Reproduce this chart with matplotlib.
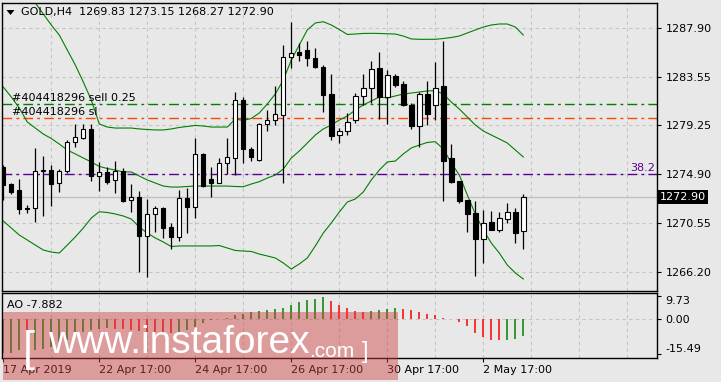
import matplotlib.pyplot as plt
from matplotlib.patches import Rectangle, Polygon
import matplotlib.transforms as mtransforms

# свечи GOLD H4 (O, H, L, C)
opens = [1275.58, 1274.04, 1273.51, 1271.93, 1271.88, 1275.20, 1275.28, 1274.10, 1275.19, 1277.74,
         1278.15, 1278.92, 1274.72, 1275.13, 1274.37, 1275.17, 1272.62, 1272.86, 1269.45, 1271.35,
         1271.88, 1270.19, 1269.36, 1272.80, 1272.02, 1276.68, 1274.48, 1274.15, 1275.88, 1276.37,
         1281.47, 1277.12, 1276.17, 1279.34, 1279.69, 1280.16, 1285.29, 1285.79, 1285.94, 1285.20,
         1284.43, 1282.00, 1278.38, 1278.77, 1279.69, 1281.82, 1282.53, 1284.31, 1281.74, 1283.60,
         1282.87, 1281.09, 1279.16, 1282.06, 1281.06, 1282.69, 1276.35, 1274.31, 1272.62, 1271.46,
         1269.18, 1270.67, 1269.99, 1270.96, 1271.53, 1269.83]
highs = [1275.70, 1274.10, 1274.46, 1272.17, 1277.21, 1276.52, 1275.70, 1275.34, 1277.95, 1279.37,
         1279.37, 1279.37, 1275.99, 1275.55, 1276.05, 1275.43, 1274.04, 1273.44, 1272.71, 1272.09,
         1271.95, 1270.55, 1273.51, 1273.71, 1278.12, 1276.76, 1275.52, 1276.32, 1278.10, 1282.21,
         1281.74, 1277.30, 1279.48, 1280.56, 1282.77, 1286.38, 1288.40, 1286.58, 1286.76, 1286.12,
         1284.61, 1283.82, 1279.00, 1280.32, 1282.09, 1283.77, 1284.99, 1285.79, 1284.11, 1283.82,
         1283.22, 1281.26, 1282.24, 1283.22, 1284.82, 1286.77, 1277.56, 1274.31, 1272.62, 1272.53,
         1271.70, 1271.62, 1271.55, 1272.38, 1271.88, 1273.15]
lows = [1272.65, 1273.15, 1271.37, 1271.49, 1270.69, 1271.20, 1272.11, 1273.35, 1274.99, 1277.35,
        1278.01, 1274.31, 1273.42, 1274.04, 1273.21, 1272.47, 1271.58, 1266.25, 1265.81, 1269.80,
        1269.22, 1268.27, 1268.98, 1269.66, 1271.05, 1273.80, 1272.91, 1274.10, 1274.90, 1274.84,
        1275.88, 1276.11, 1276.10, 1278.72, 1279.28, 1274.10, 1284.31, 1284.93, 1284.49, 1284.35,
        1280.41, 1277.94, 1277.65, 1278.38, 1279.43, 1281.06, 1281.24, 1279.82, 1279.38, 1282.63,
        1280.94, 1278.88, 1277.35, 1279.25, 1279.70, 1272.53, 1274.15, 1272.33, 1269.77, 1265.85,
        1266.99, 1269.95, 1269.80, 1270.58, 1268.79, 1268.27]
closes = [1273.92, 1273.36, 1271.79, 1271.81, 1275.17, 1275.26, 1274.07, 1275.19, 1277.77, 1278.19,
          1278.90, 1274.75, 1275.08, 1274.24, 1275.19, 1272.56, 1272.86, 1269.45, 1271.35, 1271.88,
          1270.16, 1269.36, 1272.77, 1272.02, 1276.68, 1273.86, 1274.15, 1275.88, 1276.41, 1281.47,
          1277.12, 1276.46, 1279.34, 1279.69, 1280.25, 1285.29, 1285.70, 1285.47, 1285.20, 1284.40,
          1281.97, 1278.30, 1278.73, 1279.55, 1281.82, 1282.53, 1284.26, 1281.74, 1283.67, 1282.84,
          1281.06, 1279.16, 1282.06, 1280.23, 1282.57, 1276.11, 1274.22, 1272.56, 1271.40, 1269.18,
          1270.55, 1269.99, 1270.99, 1271.53, 1269.72, 1272.90]

# Bollinger Bands
bb_upper = [1294.19, 1293.21, 1292.24, 1291.26, 1290.11, 1289.13, 1288.15, 1287.26, 1285.93, 1284.60,
            1283.09, 1281.49, 1279.36, 1279.09, 1279.00, 1279.00, 1279.00, 1278.92, 1278.87, 1278.83,
            1278.83, 1278.92, 1279.05, 1279.14, 1279.23, 1279.18, 1279.09, 1279.09, 1279.09, 1279.80,
            1279.67, 1279.85, 1280.34, 1281.14, 1282.02, 1283.27, 1285.04, 1286.38, 1287.71, 1288.33,
            1288.44, 1288.15, 1287.75, 1287.31, 1287.35, 1287.40, 1287.41, 1287.40, 1287.37, 1287.35,
            1287.17, 1286.91, 1286.88, 1286.88, 1286.88, 1286.95, 1287.04, 1287.17, 1287.44, 1287.71,
            1287.97, 1288.15, 1288.24, 1288.24, 1287.97, 1287.26]
bb_mid = [1282.64, 1281.76, 1280.78, 1279.54, 1279.00, 1278.47, 1278.07, 1277.58, 1277.05, 1276.70,
          1276.34, 1275.99, 1275.59, 1275.41, 1275.27, 1275.10, 1275.10, 1274.74, 1274.39, 1274.12,
          1273.85, 1273.76, 1273.76, 1273.81, 1273.85, 1273.85, 1273.85, 1273.85, 1273.85, 1273.81,
          1273.79, 1274.03, 1274.24, 1274.56, 1274.83, 1275.36, 1276.34, 1276.96, 1277.67, 1278.38,
          1278.92, 1279.27, 1279.71, 1280.07, 1280.60, 1281.05, 1281.40, 1281.76, 1281.67, 1281.85,
          1282.02, 1282.11, 1282.20, 1282.29, 1282.33, 1282.02, 1281.31, 1280.69, 1279.98, 1279.27,
          1278.74, 1278.38, 1278.03, 1277.67, 1277.05, 1276.43]
bb_lower = [1270.75, 1270.12, 1269.50, 1269.06, 1268.61, 1268.17, 1267.99, 1267.90, 1268.61, 1269.33,
            1270.12, 1271.01, 1271.57, 1271.50, 1271.37, 1271.19, 1270.92, 1270.21, 1269.68, 1269.24,
            1268.88, 1268.48, 1268.53, 1268.53, 1268.53, 1268.53, 1268.53, 1268.57, 1268.35, 1268.13,
            1268.08, 1268.04, 1267.81, 1267.64, 1267.46, 1267.02, 1266.48, 1266.93, 1267.46, 1268.53,
            1269.68, 1270.57, 1271.54, 1272.43, 1272.70, 1273.32, 1274.39, 1275.27, 1275.99, 1276.07,
            1276.70, 1277.23, 1277.49, 1277.72, 1277.79, 1277.14, 1275.90, 1274.83, 1273.06, 1271.37,
            1269.95, 1268.79, 1267.90, 1266.84, 1266.13, 1265.60]

# Awesome Oscillator
ao = [-15.3, -15.0, -13.9, -14.1, -13.8, -13.3, -12.4, -10.3, -9.5, -7.3,
      -5.9, -5.1, -4.4, -4.1, -4.4, -4.8, -5.1, -5.6, -5.9, -6.2,
      -6.3, -6.5, -5.9, -5.1, -3.7, -1.8, -0.7, -0.4, 0.3, 1.5,
      2.2, 2.9, 3.2, 3.7, 4.2, 4.5, 6.0, 7.2, 8.2, 8.7,
      9.4, 7.5, 6.0, 4.5, 3.4, 3.0, 3.3, 3.7, 4.1, 4.6,
      4.1, 3.6, 2.8, 1.9, 1.5, 0.4, -0.1, -1.5, -3.2, -6.2,
      -8.1, -9.4, -9.5, -9.3, -8.9, -7.882]

price_ticks = [1287.90, 1283.55, 1279.25, 1274.90, 1270.55, 1266.20]
time_pos = [0, 12, 24, 36, 48, 60]
time_labels = ['17 Apr 2019', '22 Apr 17:00', '24 Apr 17:00', '26 Apr 17:00',
               '30 Apr 17:00', '2 May 17:00']
sell_level = 1281.11
sl_level = 1279.89
fib_level = 1274.93
bid = 1272.90

bg = '#E8E8E8'
W, H = 721, 382
fig = plt.figure(figsize=(W / 100, H / 100), dpi=100, facecolor=bg)


def box(l, t, r, b):
    return [l / W, 1 - b / H, (r - l) / W, (b - t) / H]


ax = fig.add_axes(box(2, 2.7, 657, 291), facecolor=bg)
ax2 = fig.add_axes(box(2, 293.3, 657, 357.7), facecolor=bg)

x = list(range(len(opens)))
grid_x = list(range(6, 82, 6))
grid_kw = dict(color='#C4C4C4', lw=0.8, linestyle=(0, (3, 3)))

# --- основной график ---
for p in price_ticks:
    ax.axhline(p, zorder=0, **grid_kw)
for g in grid_x:
    ax.axvline(g, zorder=0, **grid_kw)

ax.axhline(bid, color='#C0C0C0', lw=1, zorder=1)
ax.axhline(sell_level, color='#008000', lw=1, linestyle=(0, (7, 3, 2, 3)), zorder=1)
ax.axhline(sl_level, color='#FF4500', lw=1, linestyle=(0, (7, 3, 2, 3)), zorder=1)
ax.axhline(fib_level, color='#5A0096', lw=1, linestyle=(0, (7, 3, 2, 3)), zorder=1)

ax.plot(x, bb_upper, color='#008000', lw=0.8, zorder=2)
ax.plot(x, bb_mid, color='#008000', lw=0.8, zorder=2)
ax.plot(x, bb_lower, color='#008000', lw=0.8, zorder=2)

ax.vlines(x, lows, highs, color='black', lw=0.9, zorder=3)
for i in x:
    o, c = opens[i], closes[i]
    up = c >= o
    ax.bar(i, max(abs(c - o), 0.03), bottom=min(o, c), width=0.55,
           facecolor='white' if up else 'black', edgecolor='black', lw=0.8, zorder=4)

ax.text(1.1, sell_level + 0.12, '#404418296 sell 0.25', fontsize=8, va='bottom', ha='left', zorder=5)
ax.text(1.1, sl_level + 0.12, '#404418296 sl', fontsize=8, va='bottom', ha='left', zorder=5)
ax.text(81.45, fib_level + 0.08, '38.2', fontsize=8, color='#5A0096', va='bottom', ha='right', zorder=5)

ax.set_xlim(-0.16, 81.71)
ax.set_ylim(1264.53, 1290.13)
ax.yaxis.tick_right()
ax.set_yticks(price_ticks)
ax.set_yticklabels(['%.2f' % p for p in price_ticks])
ax.set_xticks([])
ax.tick_params(axis='y', direction='out', length=3, width=0.8, labelsize=8, pad=3)

trans = mtransforms.blended_transform_factory(ax.transAxes, ax.transData)
ax.text(1.004, bid, '1272.90', transform=trans, fontsize=8, color='white', va='center', ha='left',
        bbox=dict(facecolor='black', edgecolor='none', boxstyle='square,pad=0.2'))

# --- AO ---
colors = ['#008000']
for i in range(1, len(ao)):
    colors.append('#008000' if ao[i] > ao[i - 1] else '#FF0000')
ax2.axhline(0, zorder=0, **grid_kw)
ax2.vlines(x, 0, ao, colors=colors, lw=1.1, snap=True, zorder=2)
ax2.set_xlim(-0.16, 81.71)
ax2.set_ylim(-17.2, 11.1)
ax2.yaxis.tick_right()
ax2.set_yticks([9.73, 0, -15.49])
ax2.set_yticklabels(['9.73', '0.00', '-15.49'])
labs = ax2.get_yticklabels()
labs[0].set_verticalalignment('top')
labs[2].set_verticalalignment('bottom')
ax2.tick_params(axis='y', direction='out', length=3, width=0.8, labelsize=8, pad=3)
ax2.set_xticks(time_pos)
ax2.set_xticklabels(time_labels, ha='left')
ax2.set_xticks(grid_x, minor=True)
ax2.tick_params(axis='x', which='major', direction='out', length=3, width=0.8, labelsize=8, pad=2)
ax2.tick_params(axis='x', which='minor', length=0)
for g in grid_x:
    ax2.axvline(g, zorder=0, **grid_kw)

for a in (ax, ax2):
    for s in a.spines.values():
        s.set_color('black')
        s.set_linewidth(1)

# заголовок
fig.patches.append(Polygon([[6.5 / W, 1 - 10 / H], [14.5 / W, 1 - 10 / H], [10.5 / W, 1 - 15 / H]],
                           closed=True, transform=fig.transFigure, facecolor='black', edgecolor='none'))
fig.text(21 / W, 1 - 12 / H, 'GOLD,H4  1269.83 1273.15 1268.27 1272.90', fontsize=8, va='center')
fig.text(7 / W, 1 - 304.5 / H, 'AO -7.882', fontsize=8, va='center')

# водяной знак
fig.patches.append(Rectangle((3 / W, 1 - 380 / H), 395 / W, 68 / H, transform=fig.transFigure,
                             facecolor='#d04040', alpha=0.45, edgecolor='none', zorder=5))
wm = dict(color='white', family='Liberation Sans', va='baseline', zorder=6)
fig.text(23 / W, 1 - 361 / H, '[', fontsize=31, **wm)
fig.text(48 / W, 1 - 353 / H, 'www.instaforex', fontsize=28, **wm)
fig.text(309 / W, 1 - 357 / H, '.com', fontsize=15, **wm)
fig.text(362 / W, 1 - 358 / H, ']', fontsize=17, **wm)

fig.savefig('out.png', dpi=100, facecolor=bg)
